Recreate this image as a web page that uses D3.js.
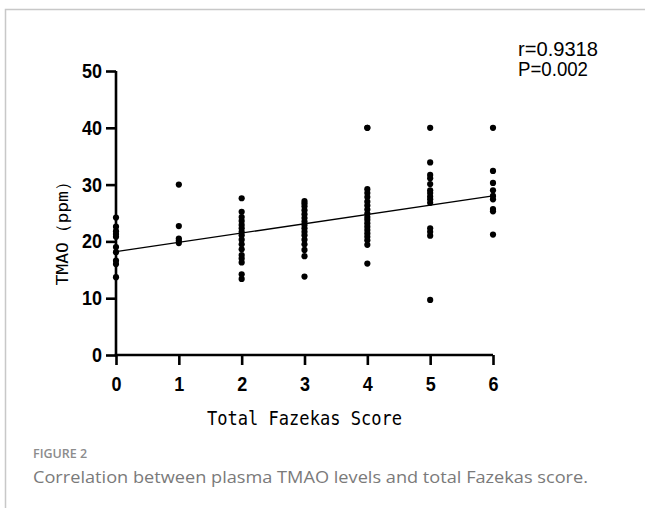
<!DOCTYPE html>
<html>
<head>
<meta charset="utf-8">
<script src="https://cdn.jsdelivr.net/npm/d3@7"></script>
<style>
  html, body { margin: 0; padding: 0; background: #fff; }
  svg { display: block; }
</style>
</head>
<body>
<svg id="chart" width="645" height="508"></svg>
<script>
// Fazekas score groups and plasma TMAO values (ppm) for each group
const scores = [0, 1, 2, 3, 4, 5, 6];
const tmao0 = [24.2, 22.6, 21.8, 21.3, 20.8, 19.0, 18.1, 16.6, 16.0, 13.7];
const tmao1 = [30.0, 22.7, 20.5, 20.1, 19.7];
const tmao2 = [27.6, 25.2, 24.3, 23.6, 22.9, 22.3, 21.7, 21.1, 20.3, 19.5, 18.6, 17.6, 17.0, 16.3, 14.2, 13.4];
const tmao3 = [27.1, 26.7, 26.2, 25.5, 24.8, 24.1, 23.5, 22.9, 22.3, 21.7, 21.1, 20.3, 19.5, 18.5, 17.4, 13.8];
const tmao4 = [40.0, 40.0, 29.2, 28.5, 27.8, 27.0, 26.3, 25.6, 24.9, 24.3, 23.8, 23.2, 22.6, 22.0, 21.4, 20.8, 20.2, 19.4, 16.1];
const tmao5 = [40.0, 33.9, 31.7, 31.1, 30.1, 29.0, 28.5, 27.9, 27.4, 26.8, 22.3, 21.7, 21.0, 9.7];
const tmao6 = [40.0, 32.4, 30.3, 29.0, 28.0, 27.4, 25.7, 25.3, 21.2];
const groups = [tmao0, tmao1, tmao2, tmao3, tmao4, tmao5, tmao6];

// Fitted regression line endpoints (score -> TMAO)
const fitX = [0, 6];
const fitY = [18.2, 28.0];

const yTicks = [0, 10, 20, 30, 40, 50];
const xTicks = [0, 1, 2, 3, 4, 5, 6];
const statLines = ["r=0.9318", "P=0.002"];
const xTitle = "Total Fazekas Score";
const yTitle = "TMAO\uFF08ppm\uFF09";
const figLabel = "FIGURE 2";
const captionText = "Correlation between plasma TMAO levels and total Fazekas score.";

const svg = d3.select("#chart");

// panel frame (top and left rules)
svg.append("path")
  .attr("d", "M5.5,508 L5.5,9.5 L645,9.5")
  .attr("fill", "none")
  .attr("stroke", "#c8c8c8")
  .attr("stroke-width", 1.5);

const x = d3.scaleLinear().domain([0, 6]).range([116, 493]);
const y = d3.scaleLinear().domain([0, 50]).range([355, 71]);

const tickFont = "'Liberation Sans', Arial, sans-serif";
const fmt = d3.format("d");

// y axis
const yAxis = svg.append("g")
  .attr("transform", `translate(${x(0)},0)`)
  .call(d3.axisLeft(y).tickValues(yTicks).tickSize(10).tickSizeOuter(0).tickPadding(4).tickFormat(fmt));

// x axis
const xAxis = svg.append("g")
  .attr("transform", `translate(0,${y(0)})`)
  .call(d3.axisBottom(x).tickValues(xTicks).tickSize(10).tickSizeOuter(0).tickPadding(11).tickFormat(fmt));

[yAxis, xAxis].forEach(g => {
  g.select(".domain").attr("stroke", "#000").attr("stroke-width", 2.6);
  g.selectAll(".tick line").attr("stroke", "#000").attr("stroke-width", 2.6);
  g.selectAll(".tick text")
    .attr("fill", "#000")
    .attr("textLength", d => fmt(d).length * 10)
    .attr("lengthAdjust", "spacingAndGlyphs")
    .style("font-family", tickFont)
    .style("font-weight", "bold")
    .style("font-size", "20.5px");
});
// extend axis lines so they meet at the corner
yAxis.select(".domain").attr("d", `M0,${y(50)}V${y(0) + 1.3}`);
xAxis.select(".domain").attr("d", `M${x(0) - 1.3},0H${x(6)}`);

// regression line
svg.append("line")
  .attr("x1", x(fitX[0])).attr("y1", y(fitY[0]))
  .attr("x2", x(fitX[1])).attr("y2", y(fitY[1]))
  .attr("stroke", "#000")
  .attr("stroke-width", 1.3);

// data points
const pts = [];
groups.forEach((vals, i) => vals.forEach(v => pts.push({ s: scores[i], v })));
svg.append("g").selectAll("circle")
  .data(pts)
  .join("circle")
  .attr("cx", d => x(d.s))
  .attr("cy", d => y(d.v))
  .attr("r", 3.1)
  .attr("fill", "#000");

const monoFont = "'DejaVu Sans Mono', 'Liberation Mono', monospace";

// x axis title
svg.append("text")
  .attr("transform", "translate(207,425) scale(1,1.25)")
  .attr("textLength", 195)
  .attr("lengthAdjust", "spacingAndGlyphs")
  .style("font-family", monoFont)
  .style("font-size", "15px")
  .attr("fill", "#000")
  .text(xTitle);

// y axis title
svg.append("text")
  .attr("transform", "translate(68,229) rotate(-90)")
  .attr("text-anchor", "middle")
  .attr("textLength", 113)
  .attr("lengthAdjust", "spacingAndGlyphs")
  .style("font-family", monoFont)
  .style("font-size", "16.5px")
  .attr("fill", "#000")
  .text(yTitle);

// correlation statistics
const statWidths = [80, 70];
svg.append("g").selectAll("text")
  .data(statLines)
  .join("text")
  .attr("transform", (d, i) => `translate(518,${56 + i * 20}) scale(1,1.1)`)
  .attr("textLength", (d, i) => statWidths[i])
  .attr("lengthAdjust", "spacingAndGlyphs")
  .style("font-family", "'Liberation Sans', Arial, sans-serif")
  .style("font-size", "18px")
  .attr("fill", "#000")
  .text(d => d);

// figure label and caption
svg.append("text")
  .attr("x", 33).attr("y", 458)
  .style("font-family", "'Open Sans', 'Noto Sans', sans-serif")
  .style("font-weight", 600)
  .style("font-size", "12.5px")
  .attr("fill", "#8c8c8c")
  .text(figLabel);

svg.append("text")
  .attr("x", 33).attr("y", 483)
  .attr("textLength", 555)
  .attr("lengthAdjust", "spacingAndGlyphs")
  .style("font-family", "'Open Sans', 'Noto Sans', sans-serif")
  .style("font-size", "16.5px")
  .attr("fill", "#7a7a7a")
  .text(captionText);
</script>
</body>
</html>
